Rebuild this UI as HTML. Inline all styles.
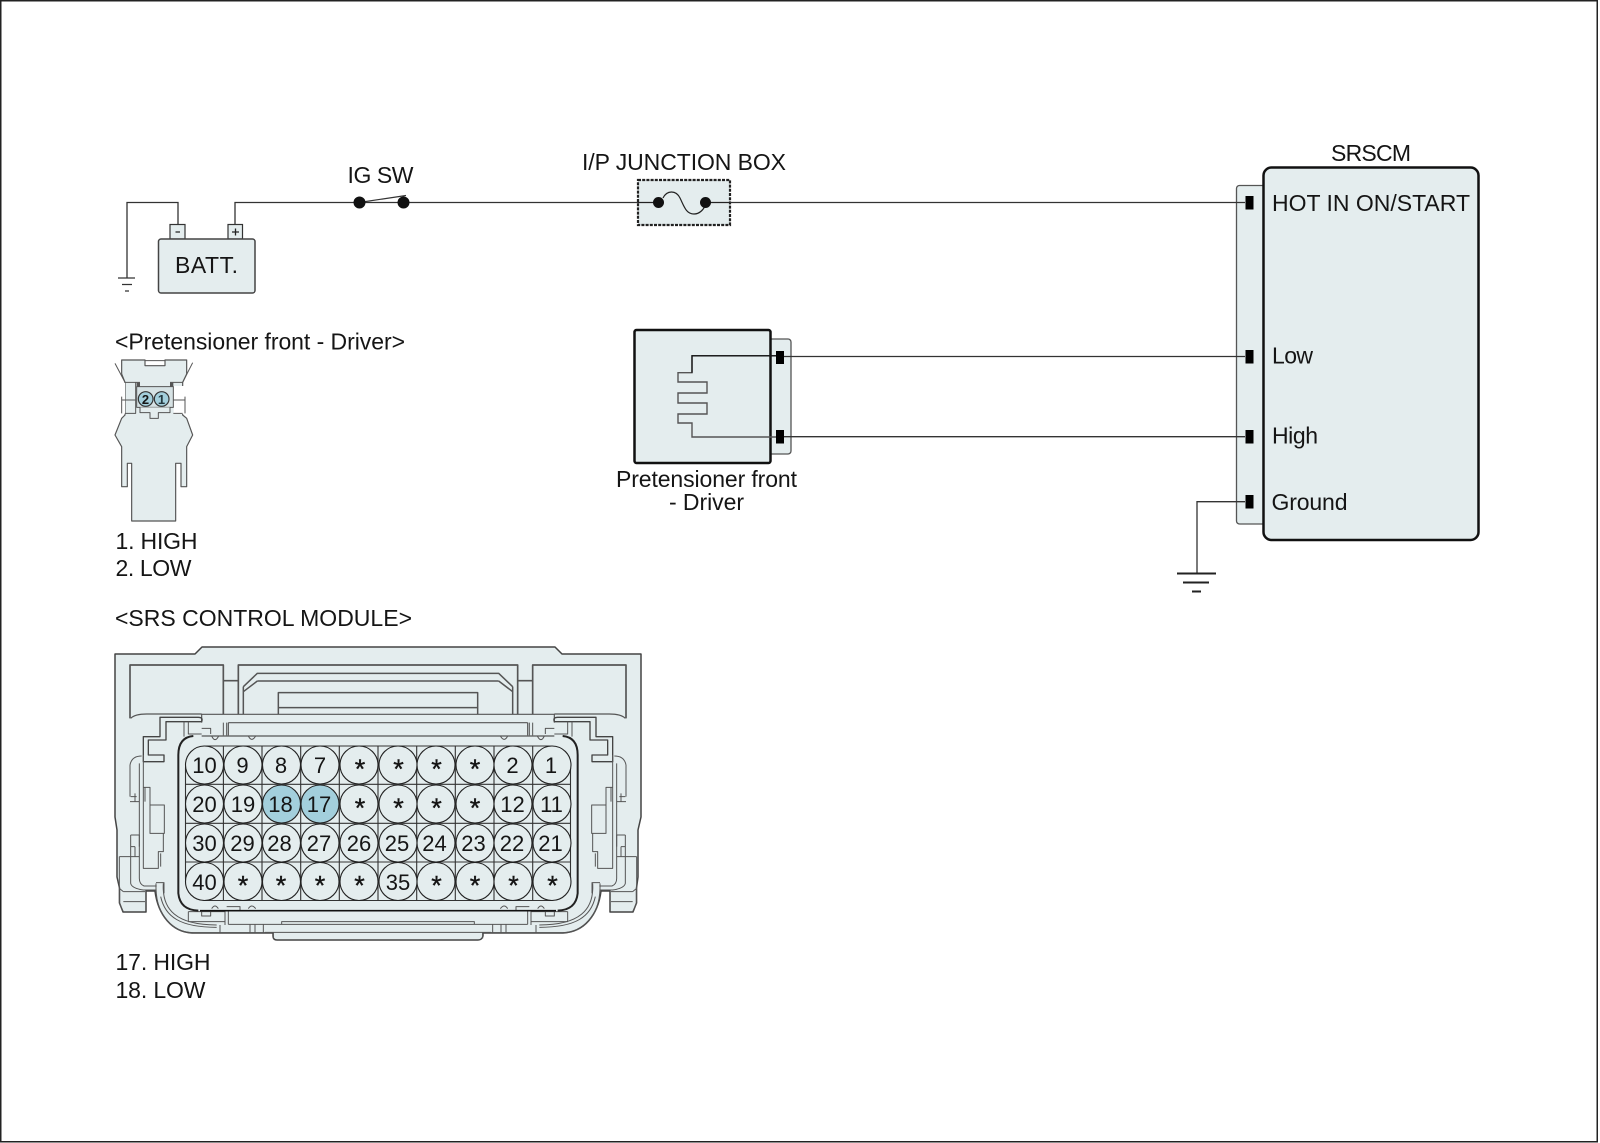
<!DOCTYPE html>
<html><head><meta charset="utf-8"><title>SRSCM circuit diagram</title>
<style>
html,body{margin:0;padding:0;background:#fff}
svg{display:block}
text{font-family:"Liberation Sans",sans-serif;fill:#151515}
</style></head><body>
<svg xmlns="http://www.w3.org/2000/svg" width="1600" height="1143" viewBox="0 0 1600 1143">
<rect x="0.75" y="0.75" width="1596.5" height="1141" fill="#fff" stroke="#222" stroke-width="1.5"/>

<!-- Battery -->
<g stroke="#333" fill="none" stroke-width="1.3">
<path d="M178,224V202.5H127V278"/>
<path d="M118,278H135M122,284.5H132M125,291H129"/>
<path d="M359,202.5L406,195.5" stroke-width="1.2"/>
</g>
<rect x="170" y="224.5" width="15" height="14.5" fill="#e4edee" stroke="#333" stroke-width="1.2"/>
<rect x="228" y="224.5" width="14.5" height="14.5" fill="#e4edee" stroke="#333" stroke-width="1.2"/>
<path d="M175.5,232H180M232,232H239M235.5,228.5V235.5" stroke="#222" stroke-width="1.3"/>
<rect x="158.5" y="239" width="96.5" height="54" rx="2.5" fill="#e4edee" stroke="#444" stroke-width="1.5"/>
<text x="175" y="273" font-size="23" textLength="63">BATT.</text>
<text x="347.5" y="183" font-size="23" textLength="66">IG SW</text>

<!-- Junction box -->
<text x="582" y="170" font-size="23" textLength="204">I/P JUNCTION BOX</text>
<rect x="638" y="180" width="92" height="45" fill="#e4edee" stroke="#222" stroke-width="2.2" stroke-dasharray="3 1.2"/>

<!-- SRSCM -->
<rect x="1236.5" y="185.5" width="35" height="338.5" rx="3" fill="#e4edee" stroke="#555" stroke-width="1.3"/>
<rect x="1263.5" y="167.5" width="215" height="372.5" rx="8" fill="#e4edee" stroke="#111" stroke-width="2.5"/>
<text x="1331" y="161" font-size="23" textLength="80">SRSCM</text>
<text x="1272" y="211" font-size="23" textLength="198">HOT IN ON/START</text>
<text x="1272" y="363.5" font-size="23" textLength="41">Low</text>
<text x="1272" y="443.5" font-size="23" textLength="46">High</text>
<text x="1271.500" y="510" font-size="23" textLength="76">Ground</text>

<!-- Pretensioner module -->
<rect x="760" y="339" width="31" height="115" rx="3" fill="#e4edee" stroke="#555" stroke-width="1.3"/>
<rect x="634.5" y="330" width="136" height="133" rx="2" fill="#e4edee" stroke="#111" stroke-width="2.5"/>
<path d="M776,355.8H692V372.7H678V382H707V393H678V403H707V414H678V423H692V437H776" fill="none" stroke="#555" stroke-width="1.4"/>
<path d="M776,355.8H692V372.7" fill="none" stroke="#111" stroke-width="1.3"/>
<text x="616" y="487" font-size="23" textLength="181">Pretensioner front</text>
<text x="669" y="510" font-size="23" textLength="75">- Driver</text>

<!-- wires over tabs -->
<g fill="none" stroke="#333" stroke-width="1.3">
<path d="M235,224V202.5H638M730,202.5H1245"/>
<path d="M784,356.5H1245M784,436.7H1245"/>
<path d="M1245,501.7H1197V573"/>
</g>
<path d="M1177,573.5H1216M1183,582.5H1209M1192,591.5H1201" stroke="#222" stroke-width="2" fill="none"/>
<path d="M638,202.5H658M663,198C667,190 676,190 680,198C684,206 686,214 694,214C700,214 704,209 706,204M706,202.5H730" fill="none" stroke="#222" stroke-width="1.2"/>
<circle cx="359.5" cy="202.5" r="6" fill="#111"/><circle cx="403.5" cy="202.5" r="6" fill="#111"/>
<circle cx="658.5" cy="202.5" r="5.5" fill="#111"/><circle cx="705.5" cy="202.5" r="5.5" fill="#111"/>
<g fill="#000"><rect x="1245.5" y="196" width="8" height="13.5"/><rect x="1245.5" y="350" width="8" height="13.5"/><rect x="1245.5" y="430" width="8" height="13.5"/><rect x="1245.5" y="495" width="8" height="13.5"/>
<rect x="776" y="351" width="8" height="13"/><rect x="776" y="430" width="8" height="13.5"/></g>

<!-- left labels -->
<text x="115" y="349.500" font-size="23" textLength="290">&lt;Pretensioner front - Driver&gt;</text>
<text x="115.5" y="549" font-size="23" textLength="82">1. HIGH</text>
<text x="115.5" y="576" font-size="23" textLength="76">2. LOW</text>
<text x="115" y="626" font-size="23" textLength="297">&lt;SRS CONTROL MODULE&gt;</text>
<text x="115.5" y="970" font-size="23" textLength="95">17. HIGH</text>
<text x="115.5" y="998" font-size="23" textLength="90">18. LOW</text>

<!-- Pretensioner connector -->
<g transform="translate(105,350) scale(.33333)" stroke="#555" stroke-width="3.5" stroke-linejoin="round" fill="none">
<path d="M50,30H120V47H180V30H245V72L233,97V195L245,205L263,255L245,290V410H228V340H212V513H80V340H67V410H50V290L30,255L50,205L60,195V97L50,72Z" fill="#e4edee"/>
<rect x="52" y="99" width="8" height="92" fill="#fff" stroke="none"/>
<rect x="206" y="108" width="40" height="84" fill="#fff" stroke="none"/>
<path d="M30,40L60,97M263,38L233,97M120,32H180M60,97H92V190H60M92,97H105M195,97H233M50,140V190M240,140V190M205,150H240M50,150H92M205,190H233" stroke-width="3"/>
<path d="M95,110H205V172H95Z" fill="#d6e2e4" stroke-width="3"/>
<path d="M95,98H105V110H95ZM195,98H205V110H195Z" fill="#555" stroke="none"/>
<path d="M105,172V188H135V205H160V188H195V172" fill="#e4edee" stroke-width="3"/>
<circle cx="122" cy="147" r="22" fill="#a3cfdc" stroke="#333" stroke-width="3.500"/>
<circle cx="170" cy="147" r="22" fill="#a3cfdc" stroke="#333" stroke-width="3.500"/>
</g>
<text x="145.500" y="404" font-size="13" font-weight="bold" text-anchor="middle">2</text>
<text x="161.500" y="404" font-size="13" font-weight="bold" text-anchor="middle" style="fill:#23383f">1</text>

<!-- SRS connector body -->
<path d="M115,654H195L202,647H555L562,654H641V817L638,830V877L636.500,888V903L633,912H610V891H601C598,915 584,932 563,933H483V936Q482,940 478,940H277Q273,940 273,936V933H192C172,932 158,915 155,891H146V912H123L119.500,903V888L117,877V830L115,817Z" fill="#e4edee" stroke="#444" stroke-width="1.5" stroke-linejoin="round"/>
<g id="halfc" transform="translate(100,630) scale(.33333)" fill="none" stroke="#555" stroke-width="3.5" stroke-linejoin="round">
<path d="M90,265V105H370V252M370,152H415M415,252V105H834" stroke-width="5"/>
<path d="M430,170L472,130H834M472,153H834M430,185L472,153M430,170V252" stroke-width="4.5"/>
<path d="M535,252V188H834M535,233H834" stroke-width="4.5"/>
<path d="M92,265Q105,252 140,252H305M305,253H834M305,253V278M385,278H834M385,278V316" stroke-width="3.5"/>
<path d="M130,320H180V262H295Q310,262 305,275H198V330H145V375H192V395H130Z" stroke="#444" stroke-width="4"/>
<path d="M252,275V320M265,275V312H305M305,295H332V312M370,278V316M380,278V316" stroke-width="3"/>
<path d="M335,318Q345,340 356,318M445,318Q455,338 467,318" stroke-width="3"/>
<path d="M305,318H834" stroke-width="4"/>
<path d="M90,405Q95,378 125,378M90,405V500M118,400V745Q118,762 132,768H170M90,515H118M105,490V515M92,500H110" stroke-width="3"/>
<path d="M130,472H150V525H193V610H150V525M130,375V715H175V665H190V610M182,670V710M135,472V515" stroke-width="3"/>
<path d="M92,615H118V650M92,615V760Q95,775 130,780H168M105,650V680H118M92,650H105M92,680H105" stroke-width="3"/>
<path d="M168,758H192V790M168,760C165,860 220,908 280,908H520M190,760C185,840 230,885 350,885M182,800C195,860 240,892 350,892" stroke-width="3"/>
<path d="M58,680H92M58,680V820L70,845M58,775L70,785M70,785H135M70,815H135" stroke-width="3"/>
<path d="M265,845V875H375M265,845H375M305,845V858H332V845M335,836Q345,820 355,836M445,836Q455,820 467,836M375,842V885M385,842V883M380,830H420V842M385,883H545V875H834M360,885V908M450,883V908M465,883V908M490,883V908M492,883H834M495,907H834M520,907V925" stroke-width="3"/>
<path d="M300,842H834" stroke="#111" stroke-width="5"/>
<path d="M280,318Q235,322 235,375V790Q240,840 295,842" stroke="#222" stroke-width="6"/>
</g>
<use href="#halfc" transform="matrix(-1 0 0 1 756 0)"/>
<!-- SRS grid -->
<rect x="185.5" y="746" width="385" height="154.5" rx="22" fill="#e4edee" stroke="#333" stroke-width="1.1"/>
<path d="M185,784.3H571M185,823.3H571M185,862H571M223.4,746V900.5M262,746V900.5M300.7,746V900.5M339.3,746V900.5M378,746V900.5M416.7,746V900.5M455.3,746V900.5M494,746V900.5M532.7,746V900.5" stroke="#333" stroke-width="1.1" fill="none"/>
<g fill="#e4edee" stroke="#222" stroke-width="1.1">
<circle cx="204.5" cy="765" r="19"/><circle cx="243" cy="765" r="19"/><circle cx="281.5" cy="765" r="19"/><circle cx="320" cy="765" r="19"/><circle cx="359" cy="765" r="19"/><circle cx="398" cy="765" r="19"/><circle cx="436" cy="765" r="19"/><circle cx="475" cy="765" r="19"/><circle cx="513" cy="765" r="19"/><circle cx="552" cy="765" r="19"/>
<circle cx="204.5" cy="804" r="19"/><circle cx="243" cy="804" r="19"/><circle cx="281.5" cy="804" r="19" fill="#a3cfdc"/><circle cx="320" cy="804" r="19" fill="#a3cfdc"/><circle cx="359" cy="804" r="19"/><circle cx="398" cy="804" r="19"/><circle cx="436" cy="804" r="19"/><circle cx="475" cy="804" r="19"/><circle cx="513" cy="804" r="19"/><circle cx="552" cy="804" r="19"/>
<circle cx="204.5" cy="843" r="19"/><circle cx="243" cy="843" r="19"/><circle cx="281.5" cy="843" r="19"/><circle cx="320" cy="843" r="19"/><circle cx="359" cy="843" r="19"/><circle cx="398" cy="843" r="19"/><circle cx="436" cy="843" r="19"/><circle cx="475" cy="843" r="19"/><circle cx="513" cy="843" r="19"/><circle cx="552" cy="843" r="19"/>
<circle cx="204.5" cy="881.5" r="19"/><circle cx="243" cy="881.5" r="19"/><circle cx="281.5" cy="881.5" r="19"/><circle cx="320" cy="881.5" r="19"/><circle cx="359" cy="881.5" r="19"/><circle cx="398" cy="881.5" r="19"/><circle cx="436" cy="881.5" r="19"/><circle cx="475" cy="881.5" r="19"/><circle cx="513" cy="881.5" r="19"/><circle cx="552" cy="881.5" r="19"/>
</g>
<g font-size="22" text-anchor="middle">
<text x="204.5" y="773">10</text><text x="242.5" y="773">9</text><text x="281" y="773">8</text><text x="320" y="773">7</text><text x="512.5" y="773">2</text><text x="551" y="773">1</text>
<text x="204.5" y="812">20</text><text x="243" y="812">19</text><text x="280.5" y="812">18</text><text x="319" y="812">17</text><text x="512.5" y="812">12</text><text x="551.5" y="812">11</text>
<text x="204.5" y="851">30</text><text x="242.5" y="851">29</text><text x="279.5" y="851">28</text><text x="319" y="851">27</text><text x="359" y="851">26</text><text x="397" y="851">25</text><text x="434.5" y="851">24</text><text x="473.5" y="851">23</text><text x="512" y="851">22</text><text x="550.5" y="851">21</text>
<text x="204.5" y="890">40</text><text x="398" y="890">35</text>
</g>
<g font-size="27" text-anchor="middle" stroke="#151515" stroke-width="0.4">
<text x="360" y="778">*</text><text x="398.5" y="778">*</text><text x="436.5" y="778">*</text><text x="475" y="778">*</text>
<text x="360" y="817">*</text><text x="398.5" y="817">*</text><text x="436.5" y="817">*</text><text x="475" y="817">*</text>
<text x="243" y="894.500">*</text><text x="281" y="894.500">*</text><text x="320" y="894.500">*</text><text x="359.5" y="894.500">*</text><text x="436.5" y="894.500">*</text><text x="475" y="894.500">*</text><text x="513.5" y="894.500">*</text><text x="552.5" y="894.500">*</text>
</g>
</svg>
</body></html>
